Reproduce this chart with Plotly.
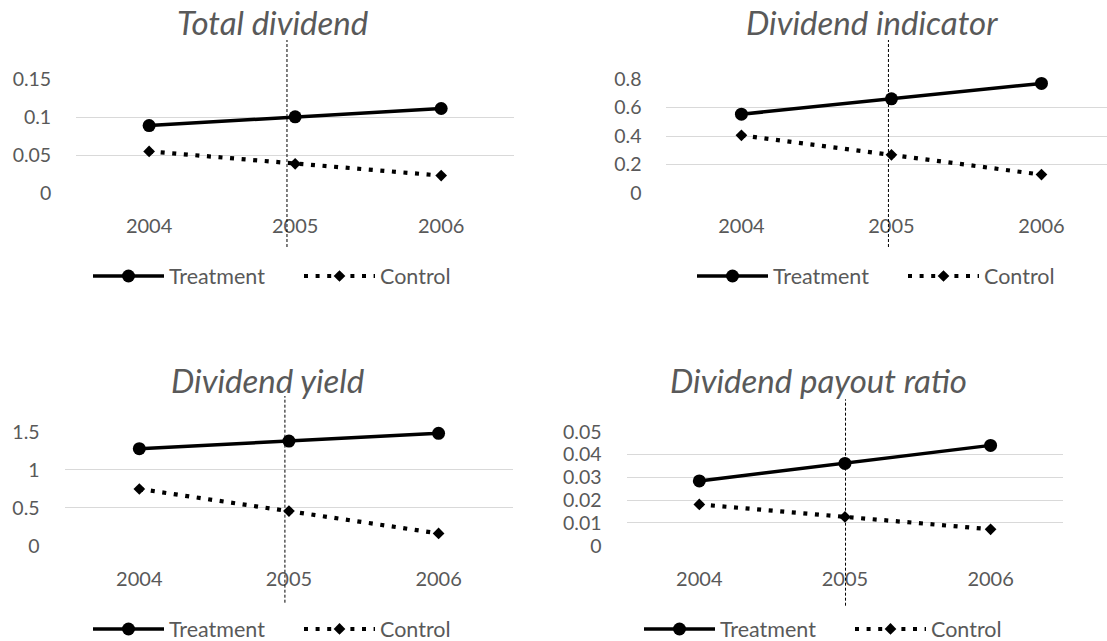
import plotly.graph_objects as go

# ---------------- data ----------------
years = ["2004", "2005", "2006"]
titles = ["Total dividend", "Dividend indicator", "Dividend yield", "Dividend payout ratio"]
series_names = ["Treatment", "Control"]

total_treatment = [0.0887, 0.1002, 0.1112]
total_control = [0.0547, 0.0384, 0.0229]

indicator_treatment = [0.553, 0.661, 0.769]
indicator_control = [0.405, 0.268, 0.129]

yield_treatment = [1.276, 1.377, 1.478]
yield_control = [0.746, 0.456, 0.162]

payout_treatment = [0.0284, 0.0361, 0.0440]
payout_control = [0.0181, 0.0126, 0.0072]

ytick_vals = [
    [0, 0.05, 0.1, 0.15],
    [0, 0.2, 0.4, 0.6, 0.8],
    [0, 0.5, 1, 1.5],
    [0, 0.01, 0.02, 0.03, 0.04, 0.05],
]
ytick_text = [
    ["0", "0.05", "0.1", "0.15"],
    ["0", "0.2", "0.4", "0.6", "0.8"],
    ["0", "0.5", "1", "1.5"],
    ["0", "0.01", "0.02", "0.03", "0.04", "0.05"],
]

# category position of the vertical reference line (near 2005) in each panel
vline_pos = [0.944, 0.98, 0.973, 1.004]

treat_series = [total_treatment, indicator_treatment, yield_treatment, payout_treatment]
ctrl_series = [total_control, indicator_control, yield_control, payout_control]

# ---------------- layout constants (pixels) ----------------
W, H = 1107, 641
plot_px = [  # left, right, top, bottom
    (76.1, 514.2, 79, 193),
    (666.4, 1116.5, 79, 193),
    (64.5, 513.4, 431.7, 545.7),
    (626.5, 1063.4, 431.7, 545.7),
]
title_px = [(272.5, 22), (871.6, 22), (268.4, 380), (818.3, 380)]
legend_px = [(88, 276), (692, 276), (88, 629), (639, 629)]
vline_y_px = [(40, 247), (40, 247), (396, 602.7), (399.3, 605.7)]

FONT = "Lato"
GRAY = "#595959"
GRID = "#d9d9d9"

fig = go.Figure()
shapes = []
annotations = []

for i in range(4):
    ax = "" if i == 0 else str(i + 1)
    leg = "legend" if i == 0 else "legend" + str(i + 1)
    fig.add_trace(go.Scatter(
        x=years, y=treat_series[i], name=series_names[0], mode="lines+markers",
        line=dict(color="black", width=3.5),
        marker=dict(symbol="circle", size=13, color="black"),
        xaxis="x" + ax, yaxis="y" + ax, legend=leg, showlegend=True,
        cliponaxis=False,
    ))
    fig.add_trace(go.Scatter(
        x=years, y=ctrl_series[i], name=series_names[1], mode="lines+markers",
        line=dict(color="black", width=4.2, dash="4px,7.6px"),
        marker=dict(symbol="diamond", size=9, color="black"),
        xaxis="x" + ax, yaxis="y" + ax, legend=leg, showlegend=True,
        cliponaxis=False,
    ))

    l, r, t, b = plot_px[i]
    spacing = (r - l) / 3.0
    xmax_px = min(r, W)
    xend = -0.5 + (xmax_px - l) / spacing
    xdom = [l / W, xmax_px / W]
    ydom = [1 - b / H, 1 - t / H]

    fig.layout["xaxis" + ax] = dict(
        domain=xdom, type="category", range=[-0.5, xend],
        anchor="y" + ax, showgrid=False, zeroline=False, showline=False,
        ticks="outside", ticklen=15, tickcolor="rgba(0,0,0,0)",
        tickfont=dict(family=FONT, size=20, color=GRAY), fixedrange=True,
    )
    fig.layout["yaxis" + ax] = dict(
        domain=ydom, range=[0, max(ytick_vals[i])], anchor="x" + ax,
        tickmode="array", tickvals=ytick_vals[i], ticktext=ytick_text[i],
        showgrid=True, gridcolor=GRID, gridwidth=1.3, zeroline=False, showline=False,
        ticks="outside", ticklen=20, tickcolor="rgba(0,0,0,0)",
        tickfont=dict(family=FONT, size=19.5, color=GRAY), fixedrange=True,
    )

    vy0, vy1 = vline_y_px[i]
    shapes.append(dict(
        type="line", xref="x" + ax, yref="paper",
        x0=vline_pos[i], x1=vline_pos[i], y0=1 - vy1 / H, y1=1 - vy0 / H,
        line=dict(color="black", width=1, dash="3px,2px"), layer="above",
    ))

    tx, ty = title_px[i]
    annotations.append(dict(
        text=titles[i], xref="paper", yref="paper", x=tx / W, y=1 - ty / H,
        xanchor="center", yanchor="middle", showarrow=False,
        font=dict(family=FONT, size=33, color=GRAY, style="italic"),
    ))

    lx, ly = legend_px[i]
    fig.layout[leg] = dict(
        x=lx / W, y=1 - ly / H, xanchor="left", yanchor="middle",
        orientation="h", itemwidth=71, entrywidth=125,
        font=dict(family=FONT, size=21.5, color=GRAY),
        bgcolor="rgba(0,0,0,0)", borderwidth=0, tracegroupgap=0,
    )

fig.update_layout(
    width=W, height=H, margin=dict(l=0, r=0, t=0, b=0, autoexpand=False),
    paper_bgcolor="white", plot_bgcolor="white",
    shapes=shapes, annotations=annotations,
    font=dict(family=FONT, color=GRAY),
)

fig.write_html(
    "out.html",
    config={"displayModeBar": False},
    post_script="document.body.style.margin='0';document.body.style.overflow='hidden';",
)
